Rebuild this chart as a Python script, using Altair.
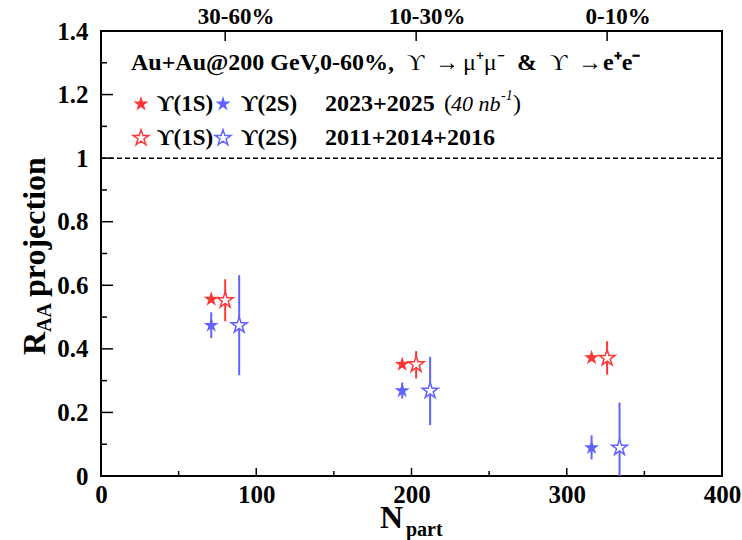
import altair as alt
import pandas as pd

# ---- data ----
npart_new = [71, 194, 316]
raa1s_new = [0.556, 0.351, 0.372]
raa1s_new_lo = [0.546, 0.342, 0.363]
raa1s_new_hi = [0.566, 0.360, 0.381]
raa2s_new = [0.474, 0.268, 0.089]
raa2s_new_lo = [0.434, 0.244, 0.052]
raa2s_new_hi = [0.515, 0.294, 0.128]

npart_old1s = [80, 203, 326]
raa1s_old = [0.553, 0.351, 0.371]
raa1s_old_lo = [0.487, 0.307, 0.319]
raa1s_old_hi = [0.619, 0.393, 0.424]

npart_old2s = [89, 212, 334]
raa2s_old = [0.474, 0.268, 0.089]
raa2s_old_lo = [0.317, 0.160, 0.0]
raa2s_old_hi = [0.632, 0.375, 0.231]

centrality_npart = [80, 203, 326]
centrality_labels = ["30-60%", "10-30%", "0-10%"]

y_major = [0, 0.2, 0.4, 0.6, 0.8, 1.0, 1.2, 1.4]
y_minor = [0.1, 0.3, 0.5, 0.7, 0.9, 1.1, 1.3]
x_major = [0, 100, 200, 300, 400]
x_minor = [50, 150, 250, 350]

RED = "#ff3636"
BLUE = "#6262ff"
FONT = "Liberation Serif"
STAR = ("M0,-1 L0.2245,-0.309 L0.951,-0.309 L0.363,0.118 L0.588,0.809 "
        "L0,0.382 L-0.588,0.809 L-0.363,0.118 L-0.951,-0.309 L-0.2245,-0.309 Z")

W, H = 621, 445
FILLED_SIZE = 250
OPEN_SIZE = 280

rows = []
def add(series, xs, ys, los, his, filled):
    for x, y, lo, hi in zip(xs, ys, los, his):
        rows.append(dict(series=series, npart=x, raa=y, lo=lo, hi=hi, filled=filled))

add("1S new", npart_new, raa1s_new, raa1s_new_lo, raa1s_new_hi, True)
add("2S new", npart_new, raa2s_new, raa2s_new_lo, raa2s_new_hi, True)
add("1S old", npart_old1s, raa1s_old, raa1s_old_lo, raa1s_old_hi, False)
add("2S old", npart_old2s, raa2s_old, raa2s_old_lo, raa2s_old_hi, False)
df = pd.DataFrame(rows)

series_dom = ["1S new", "2S new", "1S old", "2S old"]
series_rng = [RED, BLUE, RED, BLUE]
cscale = alt.Scale(domain=series_dom, range=series_rng)

xscale = alt.Scale(domain=[0, 400], nice=False, zero=False)
yscale = alt.Scale(domain=[0, 1.4], nice=False, zero=False)

xaxis = alt.Axis(values=x_major, format="d", title=None, ticks=False, domain=False,
                 grid=False, labelFont=FONT, labelFontSize=25, labelFontWeight="bold",
                 labelColor="black", labelPadding=6, labelFlush=False, labelOverlap=False)
yaxis = alt.Axis(values=y_major, format="~g", title=None, ticks=False, domain=False,
                 grid=False, labelFont=FONT, labelFontSize=25, labelFontWeight="bold",
                 labelColor="black", labelPadding=13, labelFlush=False, labelOverlap=False)

base = alt.Chart(df)

errbars = base.mark_rule(strokeWidth=2).encode(
    x=alt.X("npart:Q", scale=xscale, axis=xaxis),
    y=alt.Y("lo:Q", scale=yscale, axis=yaxis),
    y2="hi:Q",
    color=alt.Color("series:N", scale=cscale, legend=None),
)

filled_pts = base.transform_filter("datum.filled").mark_point(
    shape=STAR, filled=True, size=FILLED_SIZE, opacity=1, strokeWidth=0
).encode(
    x=alt.X("npart:Q", scale=xscale),
    y=alt.Y("raa:Q", scale=yscale),
    color=alt.Color("series:N", scale=cscale, legend=None),
)

open_pts = base.transform_filter("!datum.filled").mark_point(
    shape=STAR, filled=False, fill="white", fillOpacity=1, size=OPEN_SIZE, opacity=1, strokeWidth=1.5
).encode(
    x=alt.X("npart:Q", scale=xscale),
    y=alt.Y("raa:Q", scale=yscale),
    stroke=alt.Stroke("series:N", scale=cscale, legend=None),
)

unity = alt.Chart(pd.DataFrame({"v": [1.0]})).mark_rule(
    color="black", strokeWidth=1.5, strokeDash=[5, 3]
).encode(y=alt.Y("v:Q", scale=yscale))

# inward ticks
yt_major = alt.Chart(pd.DataFrame({"v": y_major})).mark_rule(color="black", strokeWidth=1.5).encode(
    y=alt.Y("v:Q", scale=yscale), x=alt.value(0), x2=alt.value(12))
yt_minor = alt.Chart(pd.DataFrame({"v": y_minor})).mark_rule(color="black", strokeWidth=1.5).encode(
    y=alt.Y("v:Q", scale=yscale), x=alt.value(0), x2=alt.value(6))
xt_major = alt.Chart(pd.DataFrame({"v": x_major[1:-1]})).mark_rule(color="black", strokeWidth=1.5).encode(
    x=alt.X("v:Q", scale=xscale), y=alt.value(H), y2=alt.value(H - 8))
xt_minor = alt.Chart(pd.DataFrame({"v": x_minor})).mark_rule(color="black", strokeWidth=1.5).encode(
    x=alt.X("v:Q", scale=xscale), y=alt.value(H), y2=alt.value(H - 5))
top_ticks = alt.Chart(pd.DataFrame({"v": centrality_npart})).mark_rule(color="black", strokeWidth=1.5).encode(
    x=alt.X("v:Q", scale=xscale), y=alt.value(0), y2=alt.value(10))
top_labels = alt.Chart(pd.DataFrame({"v": centrality_npart, "t": centrality_labels})).mark_text(
    font=FONT, fontSize=23, fontWeight="bold", color="black", align="center", baseline="middle", dx=11
).encode(x=alt.X("v:Q", scale=xscale), y=alt.value(-14), text="t:N")


def txt(t, x, y, size=24, weight="bold", style="normal", align="left", baseline="middle", angle=0):
    kw = dict(font=FONT, fontSize=size, fontWeight=weight, fontStyle=style, color="black",
              align=align, baseline=baseline)
    if angle:
        kw["angle"] = angle
    return alt.Chart(pd.DataFrame({"t": [t]})).mark_text(**kw).encode(
        x=alt.value(x), y=alt.value(y), text="t:N")


def star(x, y, color, filled):
    if filled:
        m = dict(shape=STAR, filled=True, size=FILLED_SIZE, color=color, opacity=1, strokeWidth=0)
    else:
        m = dict(shape=STAR, filled=False, fill="white", fillOpacity=1, stroke=color,
                 size=OPEN_SIZE, opacity=1, strokeWidth=1.5)
    return alt.Chart(pd.DataFrame({"a": [0]})).mark_point(**m).encode(
        x=alt.value(x), y=alt.value(y))


L1, L2, L3 = 32, 73, 107
texts = [
    txt("Au+Au@200 GeV,0-60%,", 30, L1),
    txt("ϒ", 306, L1, weight="normal"),
    txt("→", 334, L1, weight="normal"),
    txt("μ⁺μ⁻", 362, L1, weight="normal"),
    txt("&", 416, L1),
    txt("ϒ", 449, L1, weight="normal"),
    txt("→", 477, L1, weight="normal"),
    txt("e⁺e⁻", 502, L1),
    star(40, L2, RED, True), txt("ϒ(1S)", 56, L2, size=23),
    star(122, L2, BLUE, True), txt("ϒ(2S)", 140, L2, size=23),
    txt("2023+2025", 224, L2),
    txt("(", 343, L2, weight="normal"),
    txt("40 nb", 350, L2, size=22, weight="normal", style="italic"),
    txt("-1", 400, L2 - 8, size=14, weight="normal", style="italic"),
    txt(")", 412, L2, weight="normal"),
    star(40, L3, RED, False), txt("ϒ(1S)", 56, L3, size=23),
    star(122, L3, BLUE, False), txt("ϒ(2S)", 140, L3, size=23),
    txt("2011+2014+2016", 224, L3),
    # axis titles
    txt("N", 279, 497, size=32, baseline="alphabetic"),
    txt("part", 305, 505, size=20, baseline="alphabetic"),
    txt("R", -56, 324, size=32, baseline="alphabetic", angle=270),
    txt("AA", -50, 301, size=20, baseline="alphabetic", angle=270),
    txt("projection", -56, 266, size=32, baseline="alphabetic", angle=270),
]

chart = alt.layer(
    unity, errbars, filled_pts, open_pts,
    yt_major, yt_minor, xt_major, xt_minor, top_ticks, top_labels,
    *texts
).properties(
    width=W, height=H,
    autosize=alt.AutoSizeParams(type="none"),
    padding={"left": 101, "top": 31, "right": 20, "bottom": 64},
    background="white",
).configure_view(stroke="black", strokeWidth=2)

chart.save("out.html", embed_options={"renderer": "svg", "actions": False})
